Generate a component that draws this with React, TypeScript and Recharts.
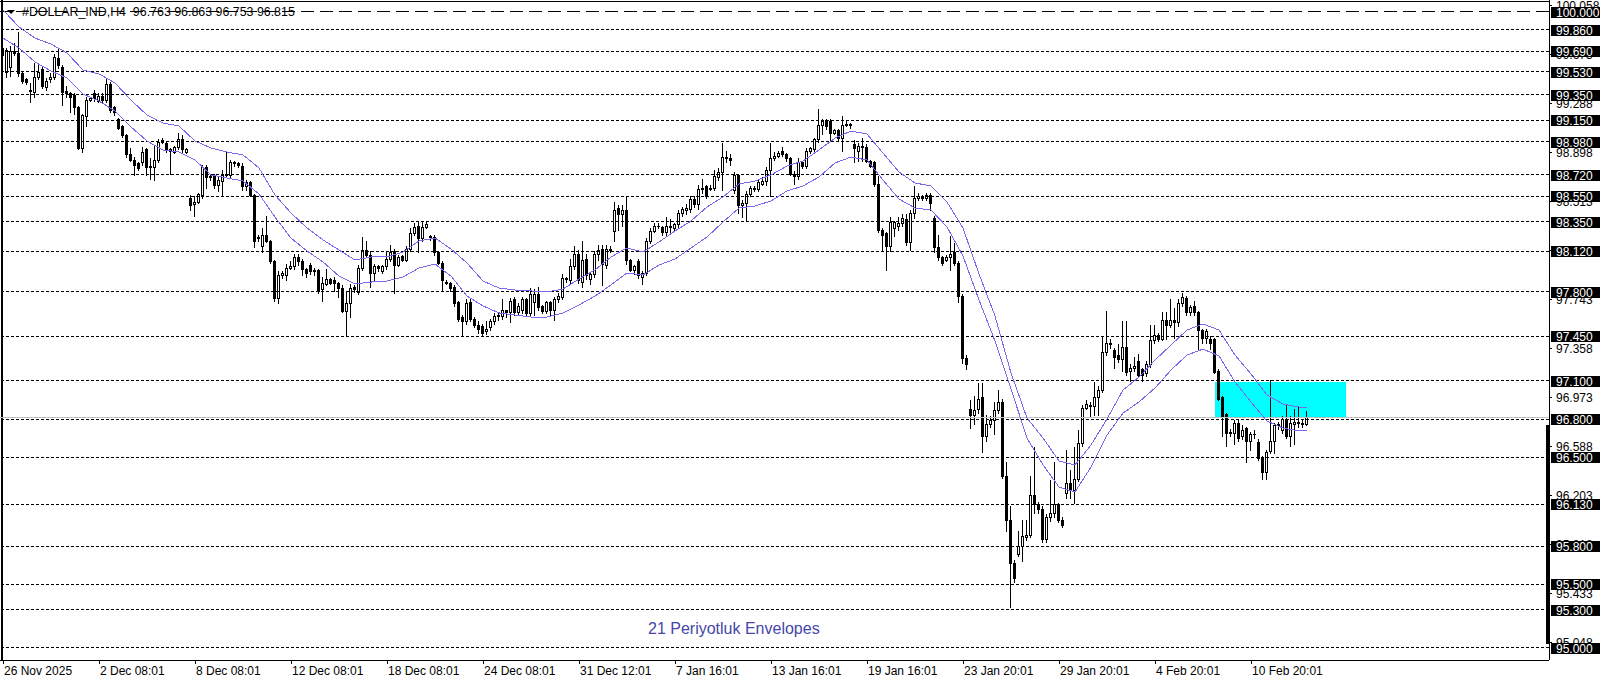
import { ComposedChart, Bar, Line, XAxis, YAxis, ReferenceLine, ReferenceArea } from "recharts";

// H4 candles, one value per bar
const OPEN = [
  99.72, 99.53, 99.57, 99.69, 99.68, 99.52, 99.47, 99.39, 99.37, 99.49,
  99.55, 99.41, 99.47, 99.49, 99.64, 99.57, 99.38, 99.36, 99.35, 99.25,
  98.93, 99.18, 99.31, 99.36, 99.30, 99.34, 99.31, 99.43, 99.25, 99.16,
  99.10, 99.03, 98.88, 98.84, 98.81, 98.82, 98.92, 98.79, 98.78, 98.84,
  98.98, 98.97, 98.92, 98.90, 98.94, 99.00, 98.90, 98.54, 98.49, 98.51,
  98.56, 98.78, 98.70, 98.71, 98.64, 98.67, 98.72, 98.72, 98.82, 98.81,
  98.79, 98.63, 98.66, 98.56, 98.22, 98.16, 98.25, 98.20, 98.04, 97.75,
  97.93, 97.93, 97.99, 98.00, 98.07, 98.04, 97.98, 98.01, 97.97, 97.97,
  97.82, 97.86, 97.90, 97.89, 97.87, 97.83, 97.65, 97.71, 97.84, 97.80,
  97.99, 98.13, 98.09, 97.95, 98.00, 97.96, 98.00, 98.06, 98.12, 98.01,
  98.08, 98.05, 98.14, 98.26, 98.32, 98.22, 98.31, 98.24, 98.23, 98.11,
  98.03, 97.88, 97.87, 97.84, 97.72, 97.60, 97.57, 97.72, 97.59, 97.54,
  97.53, 97.49, 97.52, 97.57, 97.61, 97.61, 97.66, 97.64, 97.74, 97.64,
  97.66, 97.74, 97.63, 97.72, 97.78, 97.69, 97.65, 97.72, 97.66, 97.74,
  97.76, 97.91, 97.89, 98.00, 98.10, 97.88, 98.06, 97.90, 97.94, 98.10,
  98.14, 98.01, 98.14, 98.28, 98.46, 98.41, 98.44, 98.05, 97.97, 98.04,
  97.92, 97.95, 98.20, 98.28, 98.32, 98.31, 98.27, 98.32, 98.30, 98.33,
  98.42, 98.44, 98.45, 98.53, 98.49, 98.61, 98.63, 98.61, 98.62, 98.70,
  98.74, 98.86, 98.85, 98.60, 98.72, 98.48, 98.50, 98.57, 98.62, 98.61,
  98.65, 98.67, 98.76, 98.85, 98.87, 98.91, 98.88, 98.85, 98.73, 98.71,
  98.82, 98.79, 98.91, 98.92, 99.00, 99.11, 99.15, 99.14, 99.05, 99.07,
  99.01, 99.11, 99.12, 98.96, 98.91, 98.95, 98.94, 98.83, 98.82, 98.65,
  98.29, 98.26, 98.16, 98.30, 98.32, 98.34, 98.37, 98.19, 98.42, 98.54,
  98.55, 98.54, 98.56, 98.38, 98.15, 98.07, 98.05, 98.07, 98.11, 98.03,
  97.77, 97.28, 96.88, 96.83, 96.88, 96.97, 96.67, 96.76, 96.79, 96.87,
  96.93, 96.35, 96.01, 95.67, 95.74, 95.80, 95.87, 95.89, 96.20, 96.13,
  96.09, 95.86, 96.03, 96.06, 96.13, 96.01, 96.22, 96.30, 96.24, 96.33,
  96.61, 96.89, 96.91, 96.90, 96.97, 97.03, 97.33, 97.40, 97.34, 97.30,
  97.27, 97.37, 97.18, 97.20, 97.26, 97.19, 97.16, 97.23, 97.42, 97.46,
  97.43, 97.58, 97.54, 97.58, 97.56, 97.71, 97.75, 97.64, 97.69, 97.64,
  97.50, 97.44, 97.43, 97.43, 97.18, 96.97, 96.84, 96.70, 96.69, 96.77,
  96.67, 96.73, 96.63, 96.68, 96.62, 96.50, 96.38, 96.55, 96.63, 96.75,
  96.71, 96.80, 96.67, 96.76, 96.78, 96.77, 96.763,
];
const HIGH = [
  99.74, 99.72, 99.73, 99.76, 99.84, 99.53, 99.48, 99.44, 99.60, 99.60,
  99.57, 99.48, 99.52, 99.67, 99.72, 99.58, 99.42, 99.37, 99.36, 99.26,
  99.20, 99.33, 99.33, 99.39, 99.36, 99.36, 99.47, 99.45, 99.26, 99.17,
  99.11, 99.04, 98.93, 98.86, 98.82, 98.94, 98.93, 98.85, 98.95, 99.00,
  99.01, 98.98, 98.93, 98.95, 99.05, 99.03, 98.93, 98.56, 98.55, 98.58,
  98.80, 98.80, 98.73, 98.73, 98.70, 98.76, 98.91, 98.84, 98.83, 98.82,
  98.81, 98.68, 98.67, 98.57, 98.25, 98.30, 98.40, 98.21, 98.05, 97.96,
  97.96, 98.02, 98.04, 98.10, 98.10, 98.06, 97.99, 98.03, 97.99, 97.98,
  97.92, 97.98, 97.91, 97.92, 97.88, 97.85, 97.80, 97.86, 97.85, 98.01,
  98.23, 98.20, 98.12, 98.02, 98.01, 98.01, 98.12, 98.17, 98.14, 98.09,
  98.09, 98.16, 98.30, 98.34, 98.36, 98.36, 98.36, 98.25, 98.25, 98.12,
  98.04, 97.89, 97.88, 97.85, 97.73, 97.62, 97.74, 97.74, 97.60, 97.57,
  97.55, 97.57, 97.59, 97.63, 97.64, 97.74, 97.66, 97.75, 97.76, 97.71,
  97.76, 97.75, 97.83, 97.82, 97.84, 97.70, 97.73, 97.73, 97.76, 97.79,
  97.94, 97.92, 98.06, 98.16, 98.13, 98.20, 98.10, 97.95, 98.12, 98.17,
  98.17, 98.17, 98.16, 98.51, 98.48, 98.48, 98.55, 98.06, 98.01, 98.06,
  97.96, 98.22, 98.30, 98.34, 98.34, 98.32, 98.39, 98.37, 98.34, 98.44,
  98.47, 98.49, 98.55, 98.55, 98.64, 98.69, 98.64, 98.64, 98.76, 98.77,
  98.97, 98.91, 98.88, 98.74, 98.73, 98.52, 98.59, 98.63, 98.63, 98.68,
  98.70, 98.78, 98.97, 98.90, 98.91, 98.94, 98.89, 98.86, 98.75, 98.85,
  98.83, 98.93, 98.94, 99.01, 99.24, 99.16, 99.16, 99.16, 99.08, 99.08,
  99.18, 99.15, 99.13, 98.99, 98.97, 99.01, 98.96, 98.84, 98.83, 98.71,
  98.30, 98.27, 98.39, 98.36, 98.39, 98.41, 98.41, 98.44, 98.63, 98.58,
  98.56, 98.58, 98.58, 98.40, 98.25, 98.08, 98.09, 98.24, 98.18, 98.04,
  97.78, 97.30, 96.95, 96.98, 97.08, 97.08, 96.83, 96.82, 96.93, 97.03,
  96.96, 96.46, 96.12, 95.69, 95.92, 96.01, 96.01, 96.35, 96.58, 96.15,
  96.12, 96.05, 96.32, 96.46, 96.14, 96.03, 96.56, 96.40, 96.58, 96.71,
  96.91, 96.95, 96.93, 97.09, 97.06, 97.45, 97.65, 97.43, 97.36, 97.39,
  97.57, 97.57, 97.23, 97.29, 97.31, 97.20, 97.26, 97.54, 97.54, 97.48,
  97.64, 97.64, 97.74, 97.67, 97.74, 97.79, 97.77, 97.70, 97.73, 97.65,
  97.51, 97.51, 97.45, 97.44, 97.19, 96.98, 96.85, 96.72, 96.79, 96.79,
  96.75, 96.74, 96.70, 96.71, 96.64, 96.51, 96.56, 97.11, 96.77, 96.78,
  96.82, 96.91, 96.82, 96.88, 96.90, 96.79, 96.863,
];
const LOW = [
  99.62, 99.49, 99.50, 99.66, 99.50, 99.44, 99.43, 99.29, 99.33, 99.47,
  99.40, 99.39, 99.45, 99.47, 99.56, 99.27, 99.33, 99.21, 99.20, 98.92,
  98.90, 99.10, 99.30, 99.30, 99.29, 99.29, 99.29, 99.21, 99.19, 99.08,
  99.02, 98.86, 98.83, 98.72, 98.76, 98.80, 98.72, 98.69, 98.68, 98.82,
  98.97, 98.90, 98.73, 98.89, 98.92, 98.89, 98.89, 98.44, 98.40, 98.50,
  98.54, 98.62, 98.68, 98.62, 98.59, 98.56, 98.71, 98.70, 98.79, 98.78,
  98.60, 98.60, 98.55, 98.15, 98.20, 98.11, 98.19, 98.03, 97.73, 97.71,
  97.91, 97.89, 97.98, 97.98, 98.01, 97.93, 97.92, 97.94, 97.93, 97.79,
  97.73, 97.85, 97.86, 97.81, 97.76, 97.64, 97.45, 97.60, 97.80, 97.78,
  97.97, 98.07, 97.84, 97.89, 97.96, 97.95, 97.98, 98.04, 97.79, 98.00,
  98.04, 98.04, 98.12, 98.25, 98.11, 98.20, 98.30, 98.21, 98.09, 98.02,
  97.81, 97.86, 97.81, 97.69, 97.57, 97.46, 97.55, 97.57, 97.52, 97.48,
  97.45, 97.47, 97.50, 97.55, 97.58, 97.59, 97.60, 97.56, 97.62, 97.62,
  97.63, 97.61, 97.61, 97.62, 97.66, 97.63, 97.63, 97.62, 97.58, 97.72,
  97.74, 97.88, 97.87, 97.98, 97.87, 97.84, 97.90, 97.86, 97.92, 98.05,
  97.85, 97.99, 98.11, 98.20, 98.29, 98.32, 98.02, 97.96, 97.94, 97.91,
  97.86, 97.93, 98.18, 98.27, 98.30, 98.25, 98.25, 98.27, 98.29, 98.31,
  98.40, 98.41, 98.43, 98.47, 98.45, 98.58, 98.54, 98.60, 98.60, 98.68,
  98.60, 98.82, 98.80, 98.58, 98.42, 98.39, 98.36, 98.55, 98.59, 98.59,
  98.64, 98.64, 98.55, 98.84, 98.86, 98.87, 98.83, 98.72, 98.65, 98.69,
  98.77, 98.77, 98.89, 98.91, 98.98, 99.04, 99.08, 98.99, 99.04, 98.99,
  98.91, 99.10, 99.09, 98.82, 98.83, 98.83, 98.82, 98.78, 98.63, 98.27,
  98.13, 97.97, 98.12, 98.24, 98.29, 98.32, 98.17, 98.13, 98.38, 98.52,
  98.52, 98.52, 98.44, 98.11, 98.05, 98.01, 98.04, 97.97, 98.01, 97.72,
  97.24, 97.19, 96.73, 96.76, 96.85, 96.54, 96.63, 96.74, 96.68, 96.85,
  96.34, 95.92, 95.32, 95.52, 95.72, 95.68, 95.85, 95.87, 96.06, 96.06,
  95.83, 95.83, 96.00, 96.03, 95.99, 95.95, 96.18, 96.18, 96.14, 96.31,
  96.59, 96.88, 96.82, 96.83, 96.83, 97.01, 97.30, 97.36, 97.20, 97.25,
  97.18, 97.15, 97.10, 97.18, 97.13, 97.10, 97.14, 97.21, 97.40, 97.41,
  97.42, 97.43, 97.52, 97.44, 97.53, 97.69, 97.62, 97.62, 97.62, 97.35,
  97.40, 97.40, 97.35, 97.16, 96.95, 96.67, 96.59, 96.67, 96.60, 96.63,
  96.64, 96.46, 96.56, 96.65, 96.48, 96.33, 96.33, 96.53, 96.53, 96.72,
  96.69, 96.65, 96.59, 96.60, 96.74, 96.74, 96.753,
];
const CLOSE = [
  99.66, 99.70, 99.69, 99.68, 99.52, 99.46, 99.45, 99.38, 99.49, 99.53,
  99.42, 99.46, 99.49, 99.65, 99.58, 99.37, 99.36, 99.33, 99.25, 98.93,
  99.19, 99.31, 99.32, 99.32, 99.34, 99.31, 99.43, 99.23, 99.21, 99.09,
  99.03, 98.88, 98.84, 98.80, 98.77, 98.90, 98.78, 98.78, 98.84, 98.98,
  98.99, 98.92, 98.91, 98.94, 99.00, 98.92, 98.92, 98.48, 98.51, 98.57,
  98.78, 98.70, 98.71, 98.64, 98.68, 98.72, 98.73, 98.82, 98.81, 98.80,
  98.63, 98.66, 98.56, 98.20, 98.23, 98.25, 98.20, 98.04, 97.75, 97.93,
  97.95, 97.99, 98.00, 98.07, 98.04, 97.98, 97.95, 97.96, 97.96, 97.81,
  97.87, 97.90, 97.87, 97.87, 97.83, 97.65, 97.71, 97.83, 97.82, 97.99,
  98.13, 98.09, 97.95, 98.00, 97.99, 98.00, 98.06, 98.11, 98.01, 98.07,
  98.05, 98.14, 98.26, 98.31, 98.22, 98.31, 98.33, 98.23, 98.11, 98.03,
  97.89, 97.87, 97.83, 97.71, 97.59, 97.57, 97.71, 97.59, 97.54, 97.51,
  97.48, 97.51, 97.57, 97.61, 97.62, 97.66, 97.64, 97.73, 97.64, 97.69,
  97.74, 97.63, 97.78, 97.78, 97.68, 97.65, 97.72, 97.66, 97.74, 97.77,
  97.91, 97.90, 98.00, 98.10, 97.89, 98.05, 97.93, 97.94, 98.10, 98.13,
  98.02, 98.14, 98.13, 98.44, 98.41, 98.44, 98.05, 97.97, 98.00, 97.93,
  97.95, 98.20, 98.28, 98.32, 98.32, 98.27, 98.32, 98.31, 98.33, 98.42,
  98.45, 98.46, 98.53, 98.49, 98.61, 98.62, 98.55, 98.62, 98.71, 98.74,
  98.86, 98.85, 98.84, 98.72, 98.48, 98.50, 98.57, 98.62, 98.61, 98.66,
  98.67, 98.76, 98.85, 98.87, 98.89, 98.88, 98.85, 98.73, 98.71, 98.82,
  98.79, 98.91, 98.93, 99.00, 99.11, 99.14, 99.10, 99.05, 99.07, 99.01,
  99.11, 99.12, 99.11, 98.93, 98.95, 98.94, 98.83, 98.79, 98.65, 98.29,
  98.25, 98.16, 98.35, 98.35, 98.34, 98.38, 98.19, 98.42, 98.54, 98.55,
  98.54, 98.56, 98.50, 98.15, 98.07, 98.03, 98.07, 98.10, 98.03, 97.77,
  97.28, 97.23, 96.83, 96.87, 96.96, 96.67, 96.76, 96.79, 96.87, 96.93,
  96.35, 96.01, 95.67, 95.55, 95.80, 95.88, 95.89, 96.20, 96.13, 96.09,
  95.86, 96.03, 96.06, 96.13, 96.01, 95.97, 96.30, 96.24, 96.33, 96.61,
  96.89, 96.92, 96.90, 96.97, 97.03, 97.33, 97.40, 97.39, 97.29, 97.27,
  97.37, 97.17, 97.20, 97.22, 97.15, 97.15, 97.23, 97.42, 97.46, 97.43,
  97.58, 97.54, 97.58, 97.56, 97.71, 97.76, 97.64, 97.68, 97.64, 97.50,
  97.44, 97.49, 97.40, 97.17, 96.96, 96.82, 96.69, 96.69, 96.77, 96.65,
  96.71, 96.63, 96.68, 96.68, 96.49, 96.38, 96.54, 96.63, 96.75, 96.76,
  96.80, 96.67, 96.77, 96.78, 96.77, 96.76, 96.815,
];

// 21 period envelopes, read every 4th bar (last value is the final bar)
const ENV_UPPER = [
  100.016, 99.882, 99.795, 99.748, 99.678, 99.544, 99.513, 99.442, 99.308, 99.190,
  99.127, 99.104, 98.986, 98.931, 98.899, 98.876, 98.774, 98.561, 98.420, 98.302,
  98.208, 98.129, 98.050, 98.074, 98.074, 98.113, 98.200, 98.223, 98.137, 98.027,
  97.885, 97.830, 97.814, 97.807, 97.799, 97.822, 97.901, 97.972, 98.074, 98.145,
  98.113, 98.192, 98.278, 98.357, 98.467, 98.546, 98.648, 98.671, 98.719, 98.789,
  98.829, 98.915, 99.009, 99.064, 99.041, 98.891, 98.742, 98.656, 98.632, 98.506,
  98.302, 97.940, 97.610, 97.162, 96.808, 96.651, 96.470, 96.439, 96.596, 96.800,
  97.028, 97.130, 97.264, 97.382, 97.500, 97.547, 97.500, 97.303, 97.154, 96.989,
  96.918, 96.894, 96.894,
];
const ENV_LOWER = [
  99.795, 99.717, 99.607, 99.536, 99.481, 99.355, 99.300, 99.222, 99.096, 98.986,
  98.915, 98.899, 98.836, 98.719, 98.695, 98.671, 98.569, 98.388, 98.223, 98.121,
  98.035, 97.924, 97.862, 97.877, 97.885, 97.917, 97.987, 98.019, 97.924, 97.767,
  97.689, 97.634, 97.618, 97.602, 97.602, 97.634, 97.697, 97.767, 97.854, 97.948,
  97.932, 98.011, 98.058, 98.145, 98.231, 98.349, 98.459, 98.475, 98.514, 98.593,
  98.632, 98.703, 98.813, 98.860, 98.836, 98.679, 98.530, 98.459, 98.443, 98.310,
  98.082, 97.736, 97.414, 97.036, 96.651, 96.440, 96.265, 96.226, 96.423, 96.674,
  96.847, 96.934, 97.044, 97.185, 97.303, 97.350, 97.296, 97.091, 96.934, 96.784,
  96.729, 96.706, 96.706,
];

// horizontal levels drawn on the chart (boxed labels on the price scale)
const LEVELS = [
  99.86, 99.69, 99.53, 99.35, 99.15, 98.98, 98.72, 98.55, 98.35, 98.12,
  97.8, 97.45, 97.1, 96.8, 96.5, 96.13, 95.8, 95.5, 95.3, 95.0,
];
const TOP_LEVEL = 100.0;
const AUTO_TICKS = [
  100.058, 99.673, 99.288, 98.898, 98.513, 98.128, 97.743, 97.358, 96.973,
  96.588, 96.203, 95.818, 95.433, 95.048,
];
const BID = 96.815;

const DATE_TICKS = [0, 24, 48, 72, 96, 120, 144, 168, 192, 216, 240, 264, 288, 312];
const DATE_LABELS = [
  "26 Nov 2025", "2 Dec 08:01", "8 Dec 08:01", "12 Dec 08:01", "18 Dec 08:01",
  "24 Dec 08:01", "31 Dec 12:01", "7 Jan 16:01", "13 Jan 16:01", "19 Jan 16:01",
  "23 Jan 20:01", "29 Jan 20:01", "4 Feb 20:01", "10 Feb 20:01",
];

const FONT = "'Liberation Sans', Arial, sans-serif";
const ENV_COLOR = "#7b68ee";

const candles = OPEN.map((o, i) => ({ i, o, h: HIGH[i], l: LOW[i], c: CLOSE[i] }));
const envelope = ENV_UPPER.map((up, k) => ({
  i: k < ENV_UPPER.length - 1 ? k * 4 : CLOSE.length - 1,
  up,
  lo: ENV_LOWER[k],
}));

function Candle(props: any) {
  const { x, y, width, height, payload } = props;
  if (!payload) return null;
  const { o, h, l, c } = payload;
  const span = h - l;
  const py = (p: number) => (span > 0 ? y + ((h - p) / span) * height : y);
  const cx = Math.floor(x + width / 2);
  const top = Math.round(py(Math.max(o, c)));
  const bot = Math.round(py(Math.min(o, c)));
  const yh = Math.round(py(h));
  const yl = Math.round(py(l));
  return (
    <g>
      <line x1={cx + 0.5} x2={cx + 0.5} y1={yh} y2={yl + 1} stroke="#000" />
      {c > o ? (
        <rect x={cx - 0.5} y={top + 0.5} width={2} height={Math.max(bot - top, 1)} fill="#fff" stroke="#000" />
      ) : (
        <rect x={cx - 1} y={top} width={3} height={Math.max(bot - top + 1, 1)} fill="#000" />
      )}
    </g>
  );
}

function PriceTick(props: any) {
  const { x, y, payload } = props;
  const v = payload.value as number;
  const boxed = LEVELS.includes(v) || v === TOP_LEVEL;
  const yy = Math.round(y);
  return (
    <g>
      {boxed ? (
        <rect x={x + 2} y={yy - 5} width={49} height={11} fill="#000" />
      ) : (
        <line x1={x} x2={x + 3} y1={yy + 0.5} y2={yy + 0.5} stroke="#000" />
      )}
      <text x={x + 7} y={yy + 4.5} fontSize={12} fontFamily={FONT} fill={boxed ? "#fff" : "#000"} textAnchor="start">
        {v.toFixed(3)}
      </text>
    </g>
  );
}

function DateTick(props: any) {
  const { x, y, payload } = props;
  const k = DATE_TICKS.indexOf(payload.value);
  const tx = Math.round(x);
  return (
    <g>
      <line x1={tx + 0.5} x2={tx + 0.5} y1={y} y2={y + 4} stroke="#000" />
      <text x={tx + 1} y={y + 15} fontSize={12} fontFamily={FONT} fill="#000" textAnchor="start">
        {DATE_LABELS[k]}
      </text>
    </g>
  );
}

export default function App() {
  return (
    <div style={{ position: "absolute", left: 0, top: 0, width: 1606, height: 684, background: "#fff" }}>
      <style>{`.recharts-surface line, .recharts-surface rect, .recharts-surface path { shape-rendering: crispEdges; }`}</style>
      <ComposedChart width={1606} height={684} data={candles} margin={{ top: 0, right: 0, bottom: 0, left: 0 }}>
        <XAxis
          dataKey="i"
          type="number"
          domain={[-0.75, 386.5]}
          allowDataOverflow
          ticks={DATE_TICKS}
          interval={0}
          tickSize={0}
          tickMargin={0}
          height={24}
          axisLine={{ stroke: "#000" }}
          tick={(p: any) => <DateTick {...p} />}
        />
        <YAxis
          orientation="right"
          type="number"
          domain={[94.9056, 100.0943]}
          allowDataOverflow
          ticks={[...AUTO_TICKS, TOP_LEVEL, ...LEVELS]}
          interval={0}
          tickSize={0}
          tickMargin={0}
          width={57}
          axisLine={{ stroke: "#000" }}
          tick={(p: any) => <PriceTick {...p} />}
        />
        <ReferenceArea x1={303} x2={335.75} y1={96.813} y2={97.094} fill="#00ffff" fillOpacity={1} stroke="none" />
        <ReferenceArea x1={385.75} x2={386.5} y1={95.03} y2={96.753} fill="#000" fillOpacity={1} stroke="none" />
        <ReferenceLine x={-0.25} stroke="#000" />
        <ReferenceLine y={100.083} stroke="#000" />
        <ReferenceLine y={TOP_LEVEL} stroke="#000" strokeDasharray="13 6" />
        {LEVELS.map((v) => (
          <ReferenceLine key={v} y={v} stroke="#000" strokeDasharray="3 2" />
        ))}
        <ReferenceLine y={BID} stroke="#c0c0c0" />
        <Bar dataKey={(d: any) => [d.l, d.h]} barSize={3} shape={(p: any) => <Candle {...p} />} isAnimationActive={false} />
        <Line data={envelope} dataKey="up" type="linear" stroke={ENV_COLOR} strokeWidth={1} dot={false} activeDot={false} isAnimationActive={false} />
        <Line data={envelope} dataKey="lo" type="linear" stroke={ENV_COLOR} strokeWidth={1} dot={false} activeDot={false} isAnimationActive={false} />
      </ComposedChart>
      <div
        style={{
          position: "absolute",
          left: 7,
          top: 10,
          width: 0,
          height: 0,
          borderLeft: "4px solid transparent",
          borderRight: "4px solid transparent",
          borderTop: "4px solid #000",
        }}
      />
      <div
        style={{
          position: "absolute",
          left: 22,
          top: 6,
          fontFamily: FONT,
          fontSize: 12.4,
          lineHeight: "12px",
          color: "#000",
          whiteSpace: "pre",
        }}
      >
        {"#DOLLAR_IND,H4  96.763 96.863 96.753 96.815"}
      </div>
      <div
        style={{
          position: "absolute",
          left: 648,
          top: 621,
          fontFamily: FONT,
          fontSize: 16,
          lineHeight: "16px",
          color: "#4646a8",
          whiteSpace: "pre",
        }}
      >
        21 Periyotluk Envelopes
      </div>
    </div>
  );
}
